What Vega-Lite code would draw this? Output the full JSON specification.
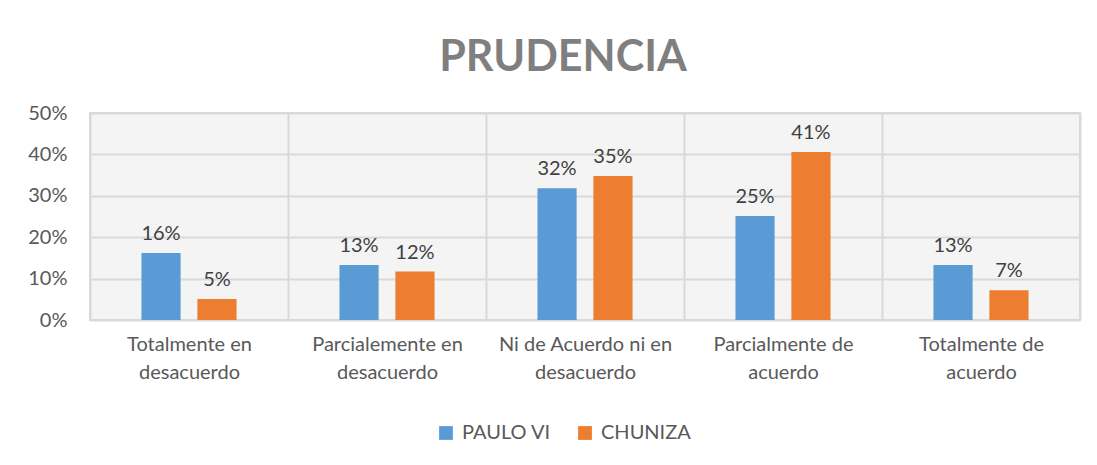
{
  "$schema": "https://vega.github.io/schema/vega-lite/v6.json",
  "autosize": {"type": "none"},
  "width": 990,
  "height": 207,
  "padding": {"left": 90, "top": 113, "right": 17, "bottom": 145},
  "background": "white",
  "title": {
    "text": "PRUDENCIA",
    "font": "Lato",
    "fontSize": 43,
    "fontWeight": "bold",
    "color": "#7f7f7f",
    "anchor": "middle",
    "dx": -22,
    "offset": 23
  },
  "data": {
    "values": [
      {"categoria": "Totalmente en|desacuerdo", "grupo": "PAULO VI", "valor": 0.162},
      {"categoria": "Totalmente en|desacuerdo", "grupo": "CHUNIZA", "valor": 0.051},
      {"categoria": "Parcialemente en|desacuerdo", "grupo": "PAULO VI", "valor": 0.133},
      {"categoria": "Parcialemente en|desacuerdo", "grupo": "CHUNIZA", "valor": 0.117},
      {"categoria": "Ni de Acuerdo ni en|desacuerdo", "grupo": "PAULO VI", "valor": 0.318},
      {"categoria": "Ni de Acuerdo ni en|desacuerdo", "grupo": "CHUNIZA", "valor": 0.348},
      {"categoria": "Parcialmente de|acuerdo", "grupo": "PAULO VI", "valor": 0.251},
      {"categoria": "Parcialmente de|acuerdo", "grupo": "CHUNIZA", "valor": 0.406},
      {"categoria": "Totalmente de|acuerdo", "grupo": "PAULO VI", "valor": 0.133},
      {"categoria": "Totalmente de|acuerdo", "grupo": "CHUNIZA", "valor": 0.072}
    ]
  },
  "encoding": {
    "x": {
      "field": "categoria",
      "type": "nominal",
      "sort": null,
      "scale": {"paddingInner": 0, "paddingOuter": 0},
      "axis": {
        "title": null,
        "labelAngle": 0,
        "labelExpr": "isValid(datum.value) ? split(datum.value, '|') : ''",
        "labelFont": "Lato",
        "labelFontSize": 20,
        "labelColor": "#595959",
        "labelPadding": 14,
        "labelLineHeight": 28,
        "domain": false,
        "ticks": false,
        "grid": true,
        "tickBand": "extent",
        "gridColor": "#d9d9d9",
        "gridWidth": 2
      }
    },
    "xOffset": {
      "field": "grupo",
      "type": "nominal",
      "sort": ["PAULO VI", "CHUNIZA"],
      "scale": {"paddingInner": 0.3, "paddingOuter": 0.92}
    },
    "y": {
      "field": "valor",
      "type": "quantitative",
      "scale": {"domain": [0, 0.5]},
      "axis": {
        "title": null,
        "format": ".0%",
        "values": [0, 0.1, 0.2, 0.3, 0.4, 0.5],
        "labelOverlap": false,
        "labelFont": "Lato",
        "labelFontSize": 20,
        "labelColor": "#595959",
        "labelPadding": 23,
        "domain": false,
        "ticks": false,
        "gridColor": "#d9d9d9",
        "gridWidth": 2
      }
    }
  },
  "layer": [
    {
      "mark": {"type": "bar"},
      "encoding": {
        "color": {
          "field": "grupo",
          "type": "nominal",
          "sort": ["PAULO VI", "CHUNIZA"],
          "scale": {"domain": ["PAULO VI", "CHUNIZA"], "range": ["#5B9BD5", "#ED7D31"]},
          "legend": {
            "title": null,
            "orient": "none",
            "legendX": 346,
            "legendY": 310,
            "direction": "horizontal",
            "symbolType": "square",
            "symbolSize": 190,
            "symbolStrokeWidth": 0,
            "labelFont": "Lato",
            "labelFontSize": 20,
            "labelColor": "#595959",
            "labelOffset": 6,
            "columnPadding": 24
          }
        }
      }
    },
    {
      "mark": {"type": "text", "baseline": "bottom", "dy": -9, "font": "Lato", "fontSize": 20, "color": "#404040"},
      "encoding": {
        "text": {"field": "valor", "type": "quantitative", "format": ".0%"}
      }
    }
  ],
  "config": {
    "view": {"stroke": "#d9d9d9", "strokeWidth": 2, "fill": "#f4f4f4"}
  }
}
